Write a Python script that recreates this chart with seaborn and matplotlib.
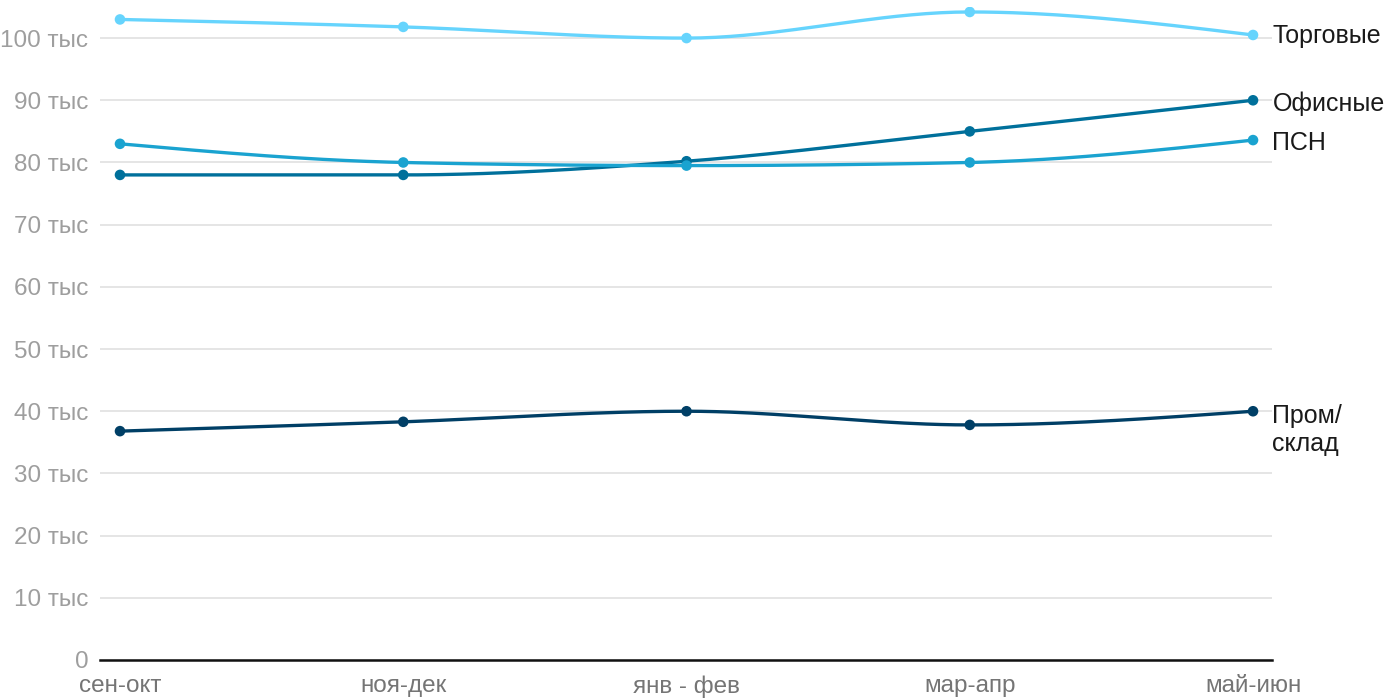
import numpy as np
import pandas as pd
import seaborn as sns
import matplotlib.pyplot as plt
from matplotlib.ticker import FuncFormatter

sns.set_theme(style="white")
plt.rcParams['font.family'] = ['Liberation Sans', 'DejaVu Sans']

periods = ['сен-окт', 'ноя-дек', 'янв - фев', 'мар-апр', 'май-июн']
trade = [103.0, 101.8, 100.0, 104.2, 100.5]
office = [78.0, 78.0, 80.2, 85.0, 90.0]
psn = [83.0, 80.0, 79.5, 80.0, 83.6]
industrial = [36.8, 38.3, 40.0, 37.8, 40.0]

series_names = ['Торговые', 'Офисные', 'ПСН', 'Пром/\nсклад']
series_values = [trade, office, psn, industrial]
colors = ['#66d4fd', '#00709b', '#1aa3d0', '#003f66']
label_shift = [-0.1, -0.6, -0.5, -3.0]


def monotone_curve(y, n=40):
    """monotone cubic (d3 curveMonotoneX style) through points at x=0..k"""
    y = np.asarray(y, dtype=float)
    k = len(y)
    s = np.diff(y)
    t = np.zeros(k)
    for i in range(1, k - 1):
        s0, s1 = s[i - 1], s[i]
        p = (s0 + s1) / 2
        t[i] = (np.sign(s0) + np.sign(s1)) * min(abs(s0), abs(s1), 0.5 * abs(p))
    t[0] = (3 * s[0] - t[1]) / 2
    t[-1] = (3 * s[-1] - t[-2]) / 2
    xs, ys = [], []
    for i in range(k - 1):
        u = np.linspace(0, 1, n)
        h00 = 2 * u**3 - 3 * u**2 + 1
        h10 = u**3 - 2 * u**2 + u
        h01 = -2 * u**3 + 3 * u**2
        h11 = u**3 - u**2
        xs.extend(i + u)
        ys.extend(h00 * y[i] + h10 * t[i] + h01 * y[i + 1] + h11 * t[i + 1])
    return np.array(xs), np.array(ys)


fig = plt.figure(figsize=(14, 7), dpi=100)
ax = fig.add_axes([100 / 1400, 40 / 700, 1172 / 1400, 653 / 700])

for name, vals, col, shift in zip(series_names, series_values, colors, label_shift):
    cx, cy = monotone_curve(vals)
    curve = pd.DataFrame({'x': cx, 'y': cy})
    sns.lineplot(data=curve, x='x', y='y', color=col, linewidth=2.4, ax=ax,
                 sort=False)
    pts = pd.DataFrame({'x': np.arange(len(vals)), 'y': vals})
    sns.scatterplot(data=pts, x='x', y='y', color=col, s=58, edgecolor='none',
                    ax=ax, zorder=3)
    ax.annotate(name, xy=(len(vals) - 1, vals[-1] + shift), xytext=(14, 0),
                textcoords='offset points', va='center', ha='left',
                fontsize=18, color='#1a1a1a', annotation_clip=False,
                linespacing=1.25)

ax.set_xlim(-0.0706, 4.067)
ax.set_ylim(0, 105)
ax.set_yticks(np.arange(0, 101, 10))
ax.yaxis.set_major_formatter(FuncFormatter(
    lambda v, pos: '0' if v == 0 else f'{int(v)} тыс'))
ax.set_xticks(range(len(periods)))
ax.set_xticklabels(periods)
ax.tick_params(axis='y', colors='#9e9e9e', labelsize=17.5, length=0, pad=8.5)
ax.tick_params(axis='x', colors='#757575', labelsize=17.5, length=0, pad=11)
ax.grid(axis='y', color='#e3e3e3', linewidth=1.3)
ax.set_axisbelow(True)
for side in ['top', 'right', 'left']:
    ax.spines[side].set_visible(False)
ax.spines['bottom'].set_color('#111111')
ax.spines['bottom'].set_linewidth(1.8)
ax.set_xlabel('')
ax.set_ylabel('')

fig.savefig('out.png', dpi=100)
